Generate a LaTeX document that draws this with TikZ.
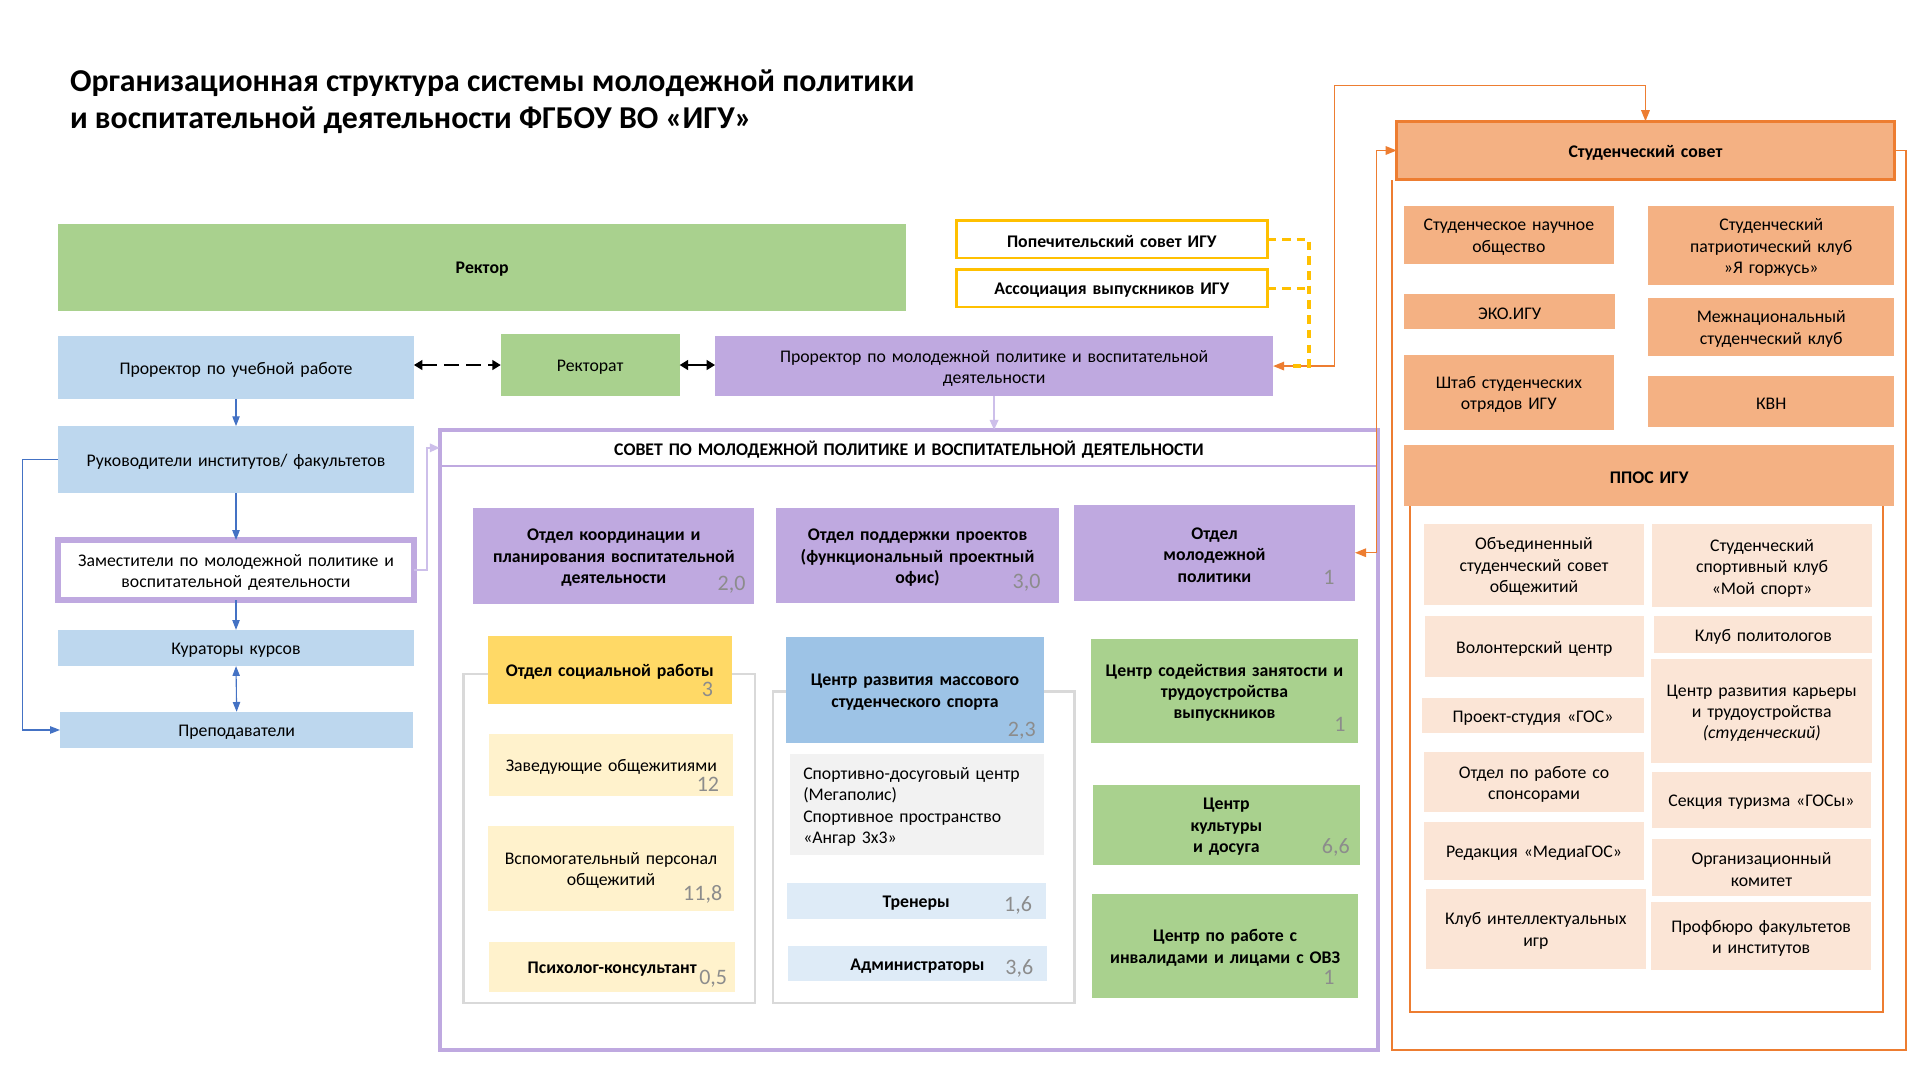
\documentclass[tikz,border=0pt]{standalone}
\usepackage{fontspec}
\setmainfont{Carlito}
\usetikzlibrary{arrows.meta,calc}
\definecolor{cgreen}{HTML}{A9D18E}
\definecolor{clblue}{HTML}{BDD7EE}
\definecolor{cpurp}{HTML}{BFA9E0}
\definecolor{cpurpl}{HTML}{CDBFEA}
\definecolor{cyelb}{HTML}{FFC000}
\definecolor{corf}{HTML}{F4B183}
\definecolor{corb}{HTML}{ED7D31}
\definecolor{clor}{HTML}{FBE5D6}
\definecolor{cyel}{HTML}{FFD966}
\definecolor{clyel}{HTML}{FFF2CC}
\definecolor{cmblue}{HTML}{9DC3E6}
\definecolor{cvlblue}{HTML}{DEEBF7}
\definecolor{clgray}{HTML}{F2F2F2}
\definecolor{cframe}{HTML}{D9D9D9}
\definecolor{cnum}{HTML}{8C8C8C}
\definecolor{carrb}{HTML}{4472C4}
\newcommand\fsz{\fontsize{14.5}{17.5}\selectfont}
% name, box style, text style, x1, y1, x2, y2, text
\newcommand\mybox[8]{%
 \pgfmathsetmacro\bw{#6-#4}\pgfmathsetmacro\bh{#7-#5}\pgfmathsetmacro\tw{#6-#4-6}%
 \node[boxbase,minimum width=\bw pt,minimum height=\bh pt,#2] (#1) at (#4,-#5) {};
 \node[txtbase,text width=\tw pt,#3] (#1-t) at ([yshift=-1.8pt]#1.center) {#8};}
\tikzset{
 boxbase/.style={rectangle, inner sep=0pt, outer sep=0pt, anchor=north west},
 txtbase/.style={inner sep=0pt, align=center, font=\fsz},
 bold/.style={font=\fsz\bfseries},
 green/.style={fill=cgreen},
 lblue/.style={fill=clblue},
 purp/.style={fill=cpurp},
 zamst/.style={fill=white, draw=cpurp, line width=5pt},
 ybox/.style={fill=white, draw=cyelb, line width=2pt},
 sovhead/.style={draw=cpurp, line width=1.5pt},
 yel/.style={fill=cyel},
 lyel/.style={fill=clyel},
 mblue/.style={fill=cmblue},
 vlblue/.style={fill=cvlblue},
 lgraybox/.style={fill=clgray},
 lefttext/.style={align=left, text width=185.5pt},
 orbox/.style={fill=corf, draw=corb, line width=2.5pt},
 orf/.style={fill=corf},
 lor/.style={fill=clor},
 num/.style={inner sep=0pt, anchor=base east, text=cnum, font=\fontsize{18}{18}\selectfont},
 framegray/.style={draw=cframe, line width=1.8pt},
 barr/.style={draw=carrb, line width=0.9pt, -{Triangle[length=8pt,width=6pt]}},
 barr2/.style={draw=carrb, line width=0.9pt, {Triangle[length=8pt,width=6pt]}-{Triangle[length=8pt,width=6pt]}},
 karr/.style={draw=black, line width=2pt, {Triangle[length=7pt,width=8pt]}-{Triangle[length=7pt,width=8pt]}},
 parr/.style={draw=cpurpl, line width=1.2pt, -{Triangle[length=8pt,width=7pt]}},
 oarr/.style={draw=corb, line width=1.1pt, {Triangle[length=9pt,width=7pt]}-{Triangle[length=9pt,width=7pt]}},
 oline/.style={draw=corb, line width=1.6pt},
 ydash/.style={draw=cyelb, line width=2.6pt, dash pattern=on 7pt off 5pt},
 title/.style={inner sep=0pt, anchor=base west, font=\fontsize{26}{30}\selectfont\bfseries},
}
\begin{document}
\begin{tikzpicture}[x=1pt,y=1pt]
\useasboundingbox[fill=white] (0,0) rectangle (1568,-882);
% title
\node[title] (t1) at (57,-74.5) {Организационная структура системы молодежной политики};
\node[title] (t2) at (57,-104.6) {и воспитательной деятельности ФГБОУ ВО «ИГУ»};
% frames
\draw[draw=cpurp, line width=3.3pt] (359,-351) rectangle (1125.6,-857.6);
\draw[framegray] (378.5,-550.7) rectangle (616.5,-819.3);
\draw[framegray] (631.5,-564.7) rectangle (877.5,-819.3);
\draw[oline] (1151.5,-413.3) -- (1151.5,-826.8) -- (1537.5,-826.8) -- (1537.5,-413.3);
% left part
\mybox{rek}{green}{bold}{47.5}{182.8}{740}{253.7}{Ректор}
\mybox{pru}{lblue}{}{47.5}{274.5}{338}{325.7}{Проректор по учебной работе}
\mybox{rkt}{green}{}{409}{272.8}{555}{323.4}{Ректорат}
\mybox{prm}{purp}{}{584}{274.5}{1039.7}{323.4}{Проректор по молодежной политике и воспитательной\\деятельности}
\mybox{ruk}{lblue}{}{47.5}{348}{338}{402.8}{Руководители институтов/ факультетов}
\mybox{zam}{zamst}{}{47.5}{441}{338}{490}{Заместители по молодежной политике и\\воспитательной деятельности}
\mybox{kur}{lblue}{}{47.5}{514.4}{338}{544}{Кураторы курсов}
\mybox{pre}{lblue}{}{49}{581.3}{337.5}{611}{Преподаватели}
\mybox{pop}{ybox}{bold}{781}{180}{1035}{210.7}{Попечительский совет ИГУ}
\mybox{asc}{ybox}{bold}{781}{220}{1035}{250.6}{Ассоциация выпускников ИГУ}
% sovet
\mybox{sovh}{sovhead}{bold}{359}{351}{1125.6}{380.5}{СОВЕТ ПО МОЛОДЕЖНОЙ ПОЛИТИКЕ И ВОСПИТАТЕЛЬНОЙ ДЕЯТЕЛЬНОСТИ}
\mybox{ok}{purp}{bold}{386.6}{414.8}{616}{493}{Отдел координации и\\планирования воспитательной\\деятельности}
\mybox{op}{purp}{bold}{633.7}{414.8}{865}{492.5}{Отдел поддержки проектов\\(функциональный проектный\\офис)}
\mybox{omp}{purp}{bold}{877}{412.3}{1106.6}{490.5}{Отдел\\молодежной\\политики}
\mybox{osr}{yel}{bold}{398.5}{519.7}{597.5}{574.6}{Отдел социальной работы}
\mybox{zav}{lyel}{}{399.5}{599.3}{599}{649.7}{Заведующие общежитиями}
\mybox{vsp}{lyel}{}{398.5}{674.4}{599.5}{743.6}{Вспомогательный персонал\\общежитий}
\mybox{psy}{lyel}{bold}{399.5}{769.2}{600.5}{810.3}{Психолог-консультант}
\mybox{crs}{mblue}{bold}{642}{520.3}{852.5}{606.4}{Центр развития массового\\студенческого спорта}
\mybox{sdc}{lgraybox}{lefttext}{645}{615.6}{852.5}{698.6}{Спортивно-досуговый центр\\(Мегаполис)\\Спортивное пространство\\«Ангар 3х3»}
\mybox{tre}{vlblue}{bold}{642.5}{721}{854}{750.4}{Тренеры}
\mybox{adm}{vlblue}{bold}{643.5}{772.6}{855}{801.5}{Администраторы}
\mybox{csz}{green}{bold}{891}{521.7}{1109}{606.4}{Центр содействия занятости и\\трудоустройства\\выпускников}
\mybox{ckd}{green}{bold}{892.5}{641}{1110.5}{706.2}{Центр\\культуры\\и досуга}
\mybox{ovz}{green}{bold}{892}{730}{1109}{814.7}{Центр по работе с\\инвалидами и лицами с ОВЗ}
% numbers
\node[num] (n1) at (609,-482.6) {2,0};
\node[num] (n2) at (850,-480.4) {3,0};
\node[num] (n3) at (1090,-477.6) {1};
\node[num] (n4) at (582.5,-569) {3};
\node[num] (n5) at (587.5,-646.3) {12};
\node[num] (n6) at (590,-735) {11,8};
\node[num] (n7) at (594,-803.8) {0,5};
\node[num] (n8) at (846,-601.3) {2,3};
\node[num] (n9) at (843,-744.7) {1,6};
\node[num] (n10) at (844,-796) {3,6};
\node[num] (n11) at (1099,-597) {1};
\node[num] (n12) at (1102.5,-697) {6,6};
\node[num] (n13) at (1090,-803.8) {1};
% right part
\mybox{ss}{orbox}{bold}{1140.6}{99}{1547}{146.8}{Студенческий совет}
\mybox{sno}{orf}{}{1146.7}{168}{1317.7}{216}{Студенческое научное\\общество}
\mybox{spk}{orf}{}{1346}{168}{1547}{233}{Студенческий\\патриотический клуб\\»Я горжусь»}
\mybox{eko}{orf}{}{1146.7}{240}{1319}{269}{ЭКО.ИГУ}
\mybox{mnk}{orf}{}{1346}{243}{1547}{290.5}{Межнациональный\\студенческий клуб}
\mybox{shs}{orf}{}{1146.7}{290}{1317.7}{351}{Штаб студенческих\\отрядов ИГУ}
\mybox{kvn}{orf}{}{1346}{307}{1547}{348.5}{КВН}
\mybox{ppos}{orf}{bold}{1146.7}{363.3}{1547}{413.3}{ППОС ИГУ}
\mybox{osso}{lor}{}{1163}{428.3}{1342.5}{493.9}{Объединенный\\студенческий совет\\общежитий}
\mybox{ssk}{lor}{}{1349}{428.3}{1529}{496}{Студенческий\\спортивный клуб\\«Мой спорт»}
\mybox{vol}{lor}{}{1163.5}{503.2}{1342.5}{552.6}{Волонтерский центр}
\mybox{kpol}{lor}{}{1351}{503.2}{1529}{533}{Клуб политологов}
\mybox{pst}{lor}{}{1161.5}{570}{1342.5}{599}{Проект-студия «ГОС»}
\mybox{crk}{lor}{}{1348.5}{538.3}{1529}{623}{Центр развития карьеры\\и трудоустройства\\\textit{(студенческий)}}
\mybox{ops}{lor}{}{1163}{614.2}{1342.5}{663.2}{Отдел по работе со\\спонсорами}
\mybox{stu}{lor}{}{1349}{630.5}{1528}{676.6}{Секция туризма «ГОСы»}
\mybox{red}{lor}{}{1163}{671.3}{1342.5}{718.3}{Редакция «МедиаГОС»}
\mybox{org}{lor}{}{1349}{685}{1528}{731.5}{Организационный\\комитет}
\mybox{kii}{lor}{}{1164.5}{725.9}{1344}{791}{Клуб интеллектуальных\\игр}
\mybox{prf}{lor}{}{1348.5}{736.6}{1528}{792.5}{Профбюро факультетов\\и институтов}
% outer orange frame
\draw[oline] (ss.east) -- (1556.5,-122.9) -- (1556.5,-857.2) -- (1136.5,-857.2) -- (1136.5,-146.8);
% connectors
\coordinate (cl) at (18.5,0);
\coordinate (cz) at (348.6,0);
\coordinate (yv) at (1069,0);
\coordinate (ov) at (1090,-70);
\coordinate (ov2) at (1124,0);
\draw[barr] (pru.south) -- (ruk.north);
\draw[barr] (ruk.south) -- (zam.north);
\draw[barr] (zam.south) -- (kur.north);
\draw[barr2] (kur.south) -- (pre.north);
\draw[barr] (ruk.west) -- (cl |- ruk.west) -- (cl |- pre.west) -- (pre.west);
\draw[karr, dash pattern=on 12pt off 6pt] (pru.east |- rkt.west) -- (rkt.west);
\draw[karr] (rkt.east) -- (prm.west |- rkt.east);
\draw[parr] (zam.east) -- (cz |- zam.east) -- (cz |- sovh.west) -- (sovh.west);
\draw[parr] (prm.south) -- (prm.south |- sovh.north);
\draw[oarr] (prm.east) -| (ov) -| (ss.north);
\draw[ydash] (pop.east) -- (yv |- pop.east) -- (yv |- prm.east) -- ([xshift=12pt]prm.east);
\draw[ydash] (asc.east) -- (yv |- asc.east);
\draw[oarr] (omp.east) -- (ov2 |- omp.east) -- (ov2 |- ss.west) -- (ss.west);
\end{tikzpicture}
\end{document}
